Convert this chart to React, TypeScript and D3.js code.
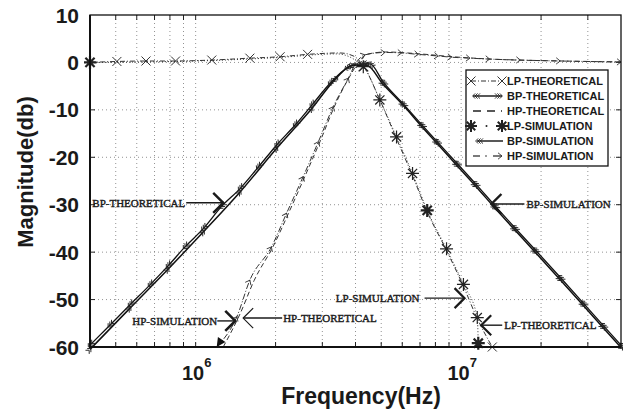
import React from 'react';
import * as d3 from 'd3';

// Magnitude response of LP / BP / HP outputs, theory vs simulation (log frequency axis).

const W = 625;
const H = 412;
const PLOT = { left: 90, right: 621, top: 15, bottom: 347 };

const Y_TICKS = [10, 0, -10, -20, -30, -40, -50, -60];
const X_TICKS = [
  { v: 1e6, base: '10', exp: '6' },
  { v: 1e7, base: '10', exp: '7' },
];

// LP theoretical (X markers, dash-dot)
const LP_THEORY_F = [4e5, 5.05e5, 6.5e5, 8.4e5, 1.15e6, 1.6e6, 2.08e6, 2.64e6, 3.5e6, 3.95e6, 4.3e6, 4.95e6, 5.7e6, 6.55e6, 7.45e6, 8.8e6, 1.02e7, 1.15e7, 1.31e7];
const LP_THEORY_DB = [0, 0.2, 0.3, 0.3, 0.5, 0.9, 1.2, 1.7, 2.0, 1.3, -0.9, -8.0, -16.0, -23.8, -31.5, -39.6, -47.2, -54.0, -60];
const LP_THEORY_MARK = [0, 1, 1, 1, 1, 1, 1, 1, 0, 0, 1, 0, 0, 0, 0, 0, 0, 0, 1];

// LP simulation (asterisks, dotted)
const LP_SIM_F = [4e5, 1e6, 2e6, 3.4e6, 4.28e6, 4.94e6, 5.71e6, 6.56e6, 7.45e6, 8.81e6, 1.02e7, 1.15e7, 1.16e7];
const LP_SIM_DB = [0, 0.3, 1.0, 1.8, -0.9, -7.9, -15.7, -23.4, -31.2, -39.3, -46.8, -53.8, -59.2];
const LP_SIM_MARK = [1, 0, 0, 0, 1, 1, 1, 1, 1, 1, 1, 1, 1];

// BP theoretical (solid, >>> markers)
const BP_THEORY_F = [4e5, 5.66e5, 7.87e5, 1.07e6, 1.47e6, 2.02e6, 2.74e6, 3.4e6, 3.9e6, 4.4e6, 5.08e6, 6.04e6, 7.1e6, 8.09e6, 9.62e6, 1.13e7, 1.34e7, 1.59e7, 1.9e7, 2.36e7, 2.88e7, 3.42e7, 4e7];
const BP_THEORY_DB = [-60.5, -51.8, -43.6, -35.7, -27.3, -18.1, -9.7, -3.2, -0.6, -0.6, -4.6, -9.0, -13.5, -17.0, -21.7, -26.0, -30.7, -35.3, -40.0, -45.8, -51.2, -55.9, -60.1];

// BP simulation (solid, <<< markers)
const BP_SIM_F = [4e5, 4.75e5, 5.66e5, 6.73e5, 7.87e5, 9.12e5, 1.07e6, 1.25e6, 1.47e6, 1.72e6, 2.02e6, 2.37e6, 2.74e6, 3.21e6, 3.71e6, 4.23e6, 4.54e6, 5.08e6, 6.04e6, 7.1e6, 8.09e6, 9.62e6, 1.13e7, 1.34e7, 1.59e7, 1.9e7, 2.36e7, 2.88e7, 3.42e7, 4e7];
const BP_SIM_DB = [-59.6, -55.4, -51.1, -46.9, -42.9, -38.9, -35.0, -30.4, -26.6, -22.1, -17.4, -13.2, -9.0, -4.4, -1.2, -0.3, -0.3, -4.1, -8.7, -13.1, -16.6, -21.2, -25.5, -30.2, -34.8, -39.5, -45.3, -50.7, -55.4, -59.6];

// HP theoretical (dashed)
const HP_THEORY_F = [1.27e6, 1.47e6, 1.66e6, 1.97e6, 2.25e6, 2.58e6, 2.95e6, 3.35e6, 3.8e6, 4.1e6, 4.4e6, 5.2e6, 7e6, 9.3e6, 1.3e7, 2.4e7, 4e7];
const HP_THEORY_DB = [-60, -53, -46, -38.5, -31.5, -24, -16.5, -9, -3, 0, 1.7, 2.2, 1.8, 1.2, 0.7, 0.3, 0.1];

// HP simulation (dash-dot, > markers)
const HP_SIM_F = [1.2e6, 1.43e6, 1.6e6, 1.93e6, 2.2e6, 2.54e6, 2.9e6, 3.3e6, 3.76e6, 4.02e6, 4.34e6, 5.16e6, 5.97e6, 6.9e6, 8.2e6, 9.21e6, 1.08e7, 1.28e7, 1.67e7, 2.36e7, 4e7];
const HP_SIM_DB = [-60, -53.6, -45.9, -38.9, -31.8, -24.1, -16.7, -9.3, -3.3, -0.1, 1.6, 2.1, 2.0, 1.7, 1.35, 1.1, 0.9, 0.7, 0.5, 0.3, 0.1];

const LEGEND = ['LP-THEORETICAL', 'BP-THEORETICAL', 'HP-THEORETICAL', 'LP-SIMULATION', 'BP-SIMULATION', 'HP-SIMULATION'];

const SANS = 'Liberation Sans, Arial, sans-serif';
const SERIF = 'Liberation Serif, Times New Roman, serif';
const INK = '#1a1a1a';

const x = d3.scaleLog().domain([4e5, 4e7]).range([PLOT.left, PLOT.right]);
const y = d3.scaleLinear().domain([-60, 10]).range([PLOT.bottom, PLOT.top]);

type Pt = [number, number];
const toPts = (f: number[], db: number[]): Pt[] => f.map((v, i) => [x(v), y(db[i])]);

const line = d3.line<Pt>().x((d) => d[0]).y((d) => d[1]).curve(d3.curveMonotoneX);

function angleAt(pts: Pt[], i: number) {
  const a = pts[Math.max(0, i - 1)];
  const b = pts[Math.min(pts.length - 1, i + 1)];
  return (Math.atan2(b[1] - a[1], b[0] - a[0]) * 180) / Math.PI;
}

function XMark({ cx, cy, s = 4.5 }: { cx: number; cy: number; s?: number }) {
  return (
    <path
      d={`M${cx - s},${cy - s}L${cx + s},${cy + s}M${cx - s},${cy + s}L${cx + s},${cy - s}`}
      stroke="#333"
      strokeWidth={1}
      fill="none"
    />
  );
}

function Asterisk({ cx, cy, s = 6.5, w = 1.3 }: { cx: number; cy: number; s?: number; w?: number }) {
  const d = d3
    .range(4)
    .map((k) => {
      const a = (k * Math.PI) / 4;
      const dx = Math.cos(a) * s;
      const dy = Math.sin(a) * s;
      return `M${cx - dx},${cy - dy}L${cx + dx},${cy + dy}`;
    })
    .join('');
  return <path d={d} stroke="#222" strokeWidth={w} fill="none" />;
}

// n stacked chevrons, pointing along +x of local frame (dir = 1) or backward (dir = -1)
function Chevrons({ cx, cy, angle, dir, n = 3 }: { cx: number; cy: number; angle: number; dir: number; n?: number }) {
  const parts = d3.range(n).map((k) => {
    const o = (k - (n - 1) / 2) * 2.4;
    return `M${o - 2.6 * dir},-2.6L${o},0L${o - 2.6 * dir},2.6`;
  });
  return (
    <path
      d={parts.join('')}
      transform={`translate(${cx},${cy}) rotate(${angle})`}
      stroke="#222"
      strokeWidth={0.9}
      fill="none"
    />
  );
}

function Arrowhead({ cx, cy, angle, s = 4 }: { cx: number; cy: number; angle: number; s?: number }) {
  return (
    <path
      d={`M${-s},${-s * 0.8}L0,0L${-s},${s * 0.8}`}
      transform={`translate(${cx},${cy}) rotate(${angle})`}
      stroke="#333"
      strokeWidth={0.9}
      fill="none"
    />
  );
}

// Callout: label + arrow pointing at (f, db). side = 'left' means text sits left of tip.
function Callout({ f, db, label, side, gap, len, w = 2 }: { f: number; db: number; label: string; side: 'left' | 'right'; gap: number; len: number; w?: number }) {
  const tx = x(f);
  const ty = y(db);
  const s = side === 'left' ? -1 : 1;
  const lineEnd = tx + s * len;
  const textX = tx + s * gap;
  return (
    <g>
      <line x1={tx} y1={ty} x2={lineEnd} y2={ty} stroke={INK} strokeWidth={1.4} />
      <path
        d={`M${tx + s * 10},${ty - 10}L${tx},${ty}L${tx + s * 10},${ty + 10}`}
        stroke={INK}
        strokeWidth={w}
        fill="none"
      />
      <text
        x={textX}
        y={ty + 3.8}
        textAnchor={side === 'left' ? 'end' : 'start'}
        fontFamily={SERIF}
        fontSize={11}
        fill={INK}
        stroke={INK}
        strokeWidth={0.4}
      >
        {label}
      </text>
    </g>
  );
}

export default function App() {
  const lpT = toPts(LP_THEORY_F, LP_THEORY_DB);
  const lpS = toPts(LP_SIM_F, LP_SIM_DB);
  const bpT = toPts(BP_THEORY_F, BP_THEORY_DB);
  const bpS = toPts(BP_SIM_F, BP_SIM_DB);
  const hpT = toPts(HP_THEORY_F, HP_THEORY_DB);
  const hpS = toPts(HP_SIM_F, HP_SIM_DB);

  const gridX = x.ticks().filter((v) => v > 4.01e5 && v < 3.99e7);
  const gridY = Y_TICKS.filter((v) => v > -60 && v < 10);

  const lg = { x: 466, y: 70, w: 142, h: 96 };
  const rowY = (i: number) => 81 + i * 15;

  return (
    <svg width={W} height={H} style={{ position: 'absolute', left: 0, top: 0, background: '#fff' }}>
      <rect width={W} height={H} fill="#fff" />
      <defs>
        <clipPath id="plot-clip">
          <rect x={PLOT.left - 6} y={PLOT.top} width={PLOT.right - PLOT.left + 8} height={PLOT.bottom - PLOT.top + 8} />
        </clipPath>
      </defs>

      {/* dotted grid */}
      {gridX.map((v) => (
        <line key={`gx-${v}`} x1={x(v)} x2={x(v)} y1={PLOT.top} y2={PLOT.bottom} stroke="#777" strokeWidth={0.8} strokeDasharray="1 3" />
      ))}
      {gridY.map((v) => (
        <line key={`gy-${v}`} x1={PLOT.left} x2={PLOT.right} y1={y(v)} y2={y(v)} stroke="#777" strokeWidth={0.8} strokeDasharray="1 3" />
      ))}

      {/* minor ticks */}
      {gridX.map((v) => (
        <g key={`tk-${v}`}>
          <line x1={x(v)} x2={x(v)} y1={PLOT.bottom} y2={PLOT.bottom - 5} stroke="#222" strokeWidth={1} />
          <line x1={x(v)} x2={x(v)} y1={PLOT.top} y2={PLOT.top + 5} stroke="#222" strokeWidth={1} />
        </g>
      ))}
      {gridY.map((v) => (
        <g key={`tky-${v}`}>
          <line x1={PLOT.left} x2={PLOT.left + 5} y1={y(v)} y2={y(v)} stroke="#222" strokeWidth={1} />
          <line x1={PLOT.right} x2={PLOT.right - 5} y1={y(v)} y2={y(v)} stroke="#222" strokeWidth={1} />
        </g>
      ))}

      <g clipPath="url(#plot-clip)">
        {/* lines */}
        <path d={line(lpT) ?? ''} fill="none" stroke="#333" strokeWidth={1} strokeDasharray="5 2 1 2" />
        <path d={line(lpS) ?? ''} fill="none" stroke="#333" strokeWidth={1} strokeDasharray="1 2" />
        <path d={line(bpT) ?? ''} fill="none" stroke="#111" strokeWidth={1.5} />
        <path d={line(bpS) ?? ''} fill="none" stroke="#111" strokeWidth={1.3} />
        <path d={line(hpT) ?? ''} fill="none" stroke="#333" strokeWidth={1} strokeDasharray="5 3" />
        <path d={line(hpS) ?? ''} fill="none" stroke="#333" strokeWidth={1} strokeDasharray="6 2 1 2" />

        {/* markers */}
        {lpT.map((p, i) => (LP_THEORY_MARK[i] ? <XMark key={`lpt-${i}`} cx={p[0]} cy={p[1]} /> : null))}
        {lpS.map((p, i) => (LP_SIM_MARK[i] ? <Asterisk key={`lps-${i}`} cx={p[0]} cy={p[1]} w={i === 0 || i === 8 || i === 12 ? 2.2 : 1.2} /> : null))}
        {bpT.map((p, i) => (
          <Chevrons key={`bpt-${i}`} cx={p[0]} cy={p[1]} angle={angleAt(bpT, i)} dir={1} n={2} />
        ))}
        {bpS.map((p, i) => (
          <Chevrons key={`bps-${i}`} cx={p[0]} cy={p[1]} angle={angleAt(bpS, i)} dir={-1} />
        ))}
        {hpS.map((p, i) =>
          i === 0 ? (
            <path
              key="hps-0"
              d="M0,0L9,-4.5L9,4.5Z"
              transform={`translate(${p[0]},${p[1]}) rotate(${angleAt(hpS, 0)})`}
              fill="#111"
            />
          ) : (
            <Arrowhead key={`hps-${i}`} cx={p[0]} cy={p[1]} angle={angleAt(hpS, i)} />
          ),
        )}
      </g>

      {/* frame */}
      <rect x={PLOT.left} y={PLOT.top} width={PLOT.right - PLOT.left} height={PLOT.bottom - PLOT.top} fill="none" stroke="#111" strokeWidth={1.3} />
      <line x1={PLOT.left} x2={PLOT.left} y1={PLOT.top} y2={PLOT.bottom + 1} stroke="#111" strokeWidth={2} />
      <line x1={PLOT.left} x2={PLOT.right} y1={PLOT.bottom} y2={PLOT.bottom} stroke="#111" strokeWidth={2.2} />

      {/* y tick labels */}
      {Y_TICKS.map((v) => (
        <text key={`yl-${v}`} x={79} y={y(v) + 7.5} textAnchor="end" fontFamily={SANS} fontWeight="bold" fontSize={21} fill={INK}>
          {v}
        </text>
      ))}

      {/* x tick labels */}
      {X_TICKS.map((t) => (
        <text key={`xl-${t.v}`} x={x(t.v) + 1} y={380} textAnchor="middle" fontFamily={SANS} fontWeight="bold" fontSize={20} fill={INK}>
          {t.base}
          <tspan dy={-13} fontSize={13}>{t.exp}</tspan>
        </text>
      ))}

      {/* axis titles */}
      <text x={361} y={404} textAnchor="middle" fontFamily={SANS} fontWeight="bold" fontSize={23} fill={INK}>
        Frequency(Hz)
      </text>
      <text
        transform={`translate(33,${(PLOT.top + PLOT.bottom) / 2 - 9}) rotate(-90)`}
        textAnchor="middle"
        fontFamily={SANS}
        fontWeight="bold"
        fontSize={22}
        fill={INK}
      >
        Magnitude(db)
      </text>

      {/* callouts */}
      <Callout f={1.27e6} db={-29.6} label="BP-THEORETICAL" side="left" gap={38} len={37} w={2.4} />
      <Callout f={1.3e7} db={-29.85} label="BP-SIMULATION" side="right" gap={35} len={33} w={2.4} />
      <Callout f={1.03e7} db={-49.7} label="LP-SIMULATION" side="left" gap={45} len={40} w={2.2} />
      <Callout f={1.19e7} db={-55.4} label="LP-THEORETICAL" side="right" gap={23} len={21} w={2.2} />
      <Callout f={1.41e6} db={-54.5} label="HP-SIMULATION" side="left" gap={18} len={18} w={2.6} />
      <Callout f={1.51e6} db={-53.9} label="HP-THEORETICAL" side="right" gap={40} len={39} w={1.2} />

      {/* legend */}
      <rect x={lg.x} y={lg.y} width={lg.w} height={lg.h} fill="#fff" stroke="#111" strokeWidth={1.3} />
      {LEGEND.map((name, i) => {
        const ly = rowY(i);
        const x0 = 471;
        const x1 = 502;
        let sample: React.ReactNode = null;
        if (i === 0) {
          sample = (
            <g>
              <line x1={x0} x2={x1} y1={ly} y2={ly} stroke="#333" strokeWidth={1} strokeDasharray="5 2 1 2" />
              <XMark cx={x0} cy={ly} />
              <XMark cx={x1} cy={ly} />
            </g>
          );
        } else if (i === 1) {
          sample = (
            <g>
              <line x1={x0 + 2} x2={x1} y1={ly} y2={ly} stroke="#111" strokeWidth={1.4} />
              <Chevrons cx={x0 + 4} cy={ly} angle={0} dir={-1} />
              <Chevrons cx={x1 - 2} cy={ly} angle={0} dir={1} />
            </g>
          );
        } else if (i === 2) {
          sample = <line x1={x0 + 2} x2={x1} y1={ly} y2={ly} stroke="#222" strokeWidth={1.3} strokeDasharray="8 6" />;
        } else if (i === 3) {
          sample = (
            <g>
              <Asterisk cx={x0} cy={ly} s={6} w={2} />
              <circle cx={(x0 + x1) / 2} cy={ly} r={1} fill="#222" />
              <Asterisk cx={x1} cy={ly} s={6} w={2} />
            </g>
          );
        } else if (i === 4) {
          sample = (
            <g>
              <line x1={x0 + 6} x2={x1 + 1} y1={ly} y2={ly} stroke="#111" strokeWidth={1.4} />
              <Chevrons cx={x0 + 7} cy={ly} angle={0} dir={-1} />
            </g>
          );
        } else {
          sample = (
            <g>
              <line x1={x0 + 2} x2={x0 + 9} y1={ly} y2={ly} stroke="#222" strokeWidth={1.2} />
              <circle cx={x0 + 15} cy={ly} r={0.8} fill="#222" />
              <line x1={x0 + 22} x2={x1} y1={ly} y2={ly} stroke="#222" strokeWidth={1.2} />
              <Arrowhead cx={x1} cy={ly} angle={0} />
            </g>
          );
        }
        return (
          <g key={name}>
            {sample}
            <text x={507} y={ly + 4} fontFamily={SANS} fontWeight="bold" fontSize={11} fill={INK}>
              {name}
            </text>
          </g>
        );
      })}
    </svg>
  );
}
